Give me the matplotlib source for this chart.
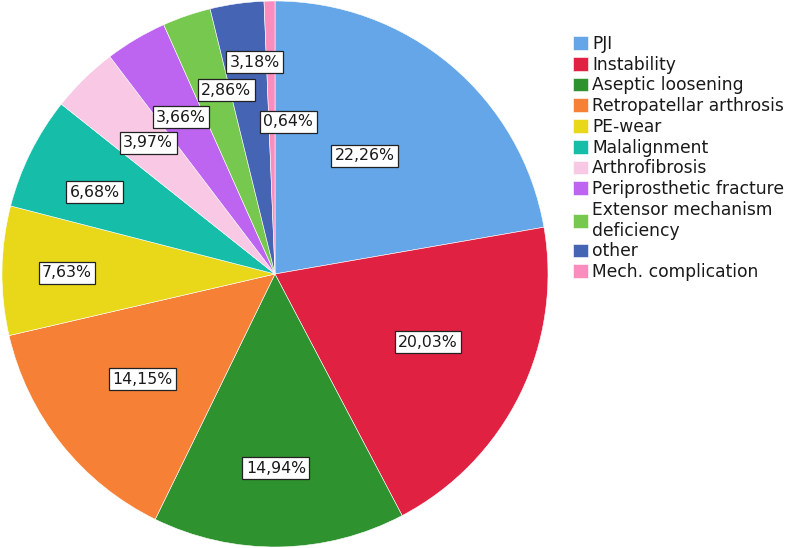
import matplotlib
matplotlib.use("Agg")
import matplotlib.pyplot as plt
import numpy as np

categories = ["PJI", "Instability", "Aseptic loosening", "Retropatellar arthrosis",
              "PE-wear", "Malalignment", "Arthrofibrosis", "Periprosthetic fracture",
              "Extensor mechanism\ndeficiency", "other", "Mech. complication"]
values = [22.26, 20.03, 14.94, 14.15, 7.63, 6.68, 3.97, 3.66, 2.86, 3.18, 0.64]
labels = ["22,26%", "20,03%", "14,94%", "14,15%", "7,63%", "6,68%", "3,97%",
          "3,66%", "2,86%", "3,18%", "0,64%"]

colors = ["#64a6e8", "#e12142", "#2e922e", "#f78037", "#e8d819", "#16beaa",
          "#f8c8e4", "#bd64f0", "#76c84e", "#4664b4", "#fa8cbe"]
# label placement (radius fraction, angle offset in degrees)
label_r = [0.544, 0.613, 0.711, 0.62, 0.762, 0.725, 0.668, 0.670, 0.697, 0.780, 0.559]
label_da = [-2.8, -2.2, 0.6, 0.0, -0.4, -2.0, 0.3, -0.3, 4.0, 2.6, 6.1]

fig = plt.figure(figsize=(7.87, 5.48), dpi=100)
ax = fig.add_axes([2/787, 1/548, 546/787, 546/548])
wedges, _ = ax.pie(values, colors=colors, startangle=90, counterclock=False,
                   wedgeprops=dict(edgecolor="white", linewidth=0.4))
ax.set_xlim(-1, 1)
ax.set_ylim(-1, 1)
ax.set_aspect("equal")

total = sum(values)
cum = 0
for v, lab, r, da in zip(values, labels, label_r, label_da):
    mid = np.deg2rad((cum + v / 2) / total * 360 + da)
    cum += v
    ax.text(r * np.sin(mid), r * np.cos(mid), lab, ha="center", va="center",
            fontsize=11.3, color="#1a1a1a",
            bbox=dict(boxstyle="square,pad=0.22", facecolor="white",
                      edgecolor="#222222", linewidth=0.9))

leg = fig.legend(wedges, categories, loc="upper left",
                 bbox_to_anchor=(573/787, 1 - 35/548), frameon=False,
                 fontsize=12.3, handlelength=0.87, handleheight=0.87,
                 handletextpad=0.25, labelspacing=0.16, borderpad=0,
                 borderaxespad=0)
for t in leg.get_texts():
    t.set_color("#1a1a1a")
fig.savefig("out.png", dpi=100)
